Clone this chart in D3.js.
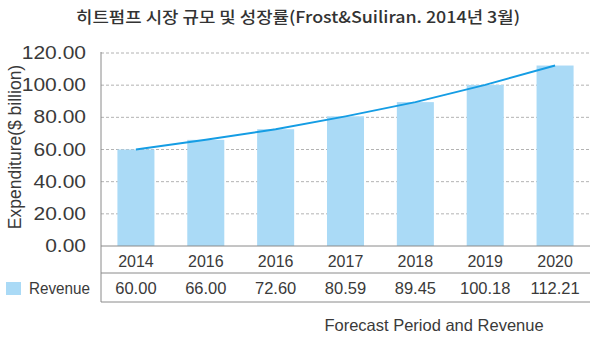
<!DOCTYPE html>
<html><head><meta charset="utf-8">
<script src="https://cdn.jsdelivr.net/npm/d3@7"></script>
<style>body{margin:0;background:#fff}svg{display:block}</style>
</head><body>
<svg id="c" width="600" height="338"></svg>
<script>
const categories = ["2014","2016","2016","2017","2018","2019","2020"];
const revenue = [60.00, 66.00, 72.60, 80.59, 89.45, 100.18, 112.21];
const valueLabels = ["60.00","66.00","72.60","80.59","89.45","100.18","112.21"];
const yTicks = [0,20,40,60,80,100,120];
const title = "히트펌프 시장 규모 및 성장률(Frost&Suiliran. 2014년 3월)";
const yTitle = "Expenditure($ billion)";
const seriesName = "Revenue";
const xTitle = "Forecast Period and Revenue";

(function(){
const svg = d3.select("#c");
const font = "'Liberation Sans Narrow','Liberation Sans',Arial,sans-serif";
const txt = "#3a3a3a";
const pl = 101, pr = 590, pt = 53, base = 246;
const x = d3.scaleBand().domain(d3.range(categories.length)).range([pl, pr]).paddingInner(0.47).paddingOuter(0.235);
const y = d3.scaleLinear().domain([0,120]).range([base, pt]);

svg.append("text").attr("x",298).attr("y",23).attr("text-anchor","middle")
  .attr("font-family","'Noto Sans CJK KR',sans-serif").attr("font-size",16).attr("font-weight",500)
  .attr("fill","#333").attr("textLength",444).attr("lengthAdjust","spacingAndGlyphs").text(title);

svg.append("g").selectAll("line").data(yTicks.filter(d=>d>0)).join("line")
  .attr("x1",pl).attr("x2",pr).attr("y1",d=>y(d)).attr("y2",d=>y(d))
  .attr("stroke","#a0a0a0").attr("stroke-width",0.8).attr("stroke-dasharray","3,2");

svg.append("g").selectAll("rect").data(revenue).join("rect")
  .attr("x",(d,i)=>x(i)).attr("width",x.bandwidth())
  .attr("y",d=>y(d)).attr("height",d=>base-y(d)).attr("fill","#aadaf6");

svg.append("path").datum(revenue)
  .attr("d",d3.line().x((d,i)=>x(i)+x.bandwidth()/2).y(d=>y(d)))
  .attr("fill","none").attr("stroke","#159de4").attr("stroke-width",2);

const ya = d3.axisLeft(y).tickValues(yTicks).tickFormat(d3.format(".2f")).tickSize(0).tickPadding(15);
const g = svg.append("g").attr("transform",`translate(${pl},0)`).call(ya);
g.select(".domain").remove();
g.selectAll("text").attr("font-family",font).attr("font-size",17.5).attr("fill",txt)
  .each(function(){ const w=this.getComputedTextLength(); d3.select(this).attr("textLength",w*1.2).attr("lengthAdjust","spacingAndGlyphs"); });

const lc = "#8a8a8a";
svg.append("line").attr("x1",pl).attr("x2",pl).attr("y1",pt-1).attr("y2",302).attr("stroke",lc);
[base,273,302].forEach(v=>svg.append("line").attr("x1",pl).attr("x2",pr).attr("y1",v).attr("y2",v).attr("stroke",lc));

svg.append("g").selectAll("text").data(categories).join("text")
  .attr("x",(d,i)=>x(i)+x.bandwidth()/2).attr("y",267).attr("text-anchor","middle")
  .attr("font-family",font).attr("font-size",16).attr("fill",txt).text(d=>d);
svg.append("g").selectAll("text").data(valueLabels).join("text")
  .attr("x",(d,i)=>x(i)+x.bandwidth()/2).attr("y",294).attr("text-anchor","middle")
  .attr("font-family",font).attr("font-size",16.5).attr("fill",txt).text(d=>d);

svg.append("rect").attr("x",6).attr("y",282).attr("width",15).attr("height",13).attr("fill","#aadaf6");
svg.append("text").attr("x",29).attr("y",294).attr("font-family",font).attr("font-size",16.5).attr("fill",txt)
  .attr("textLength",61).attr("lengthAdjust","spacingAndGlyphs").text(seriesName);

svg.append("text").attr("transform","translate(21,147) rotate(-90)").attr("text-anchor","middle")
  .attr("font-family",font).attr("font-size",17.5).attr("fill",txt).text(yTitle);

svg.append("text").attr("x",434).attr("y",331).attr("text-anchor","middle")
  .attr("font-family",font).attr("font-size",16.5).attr("fill",txt).text(xTitle);
})();
</script>
</body></html>
